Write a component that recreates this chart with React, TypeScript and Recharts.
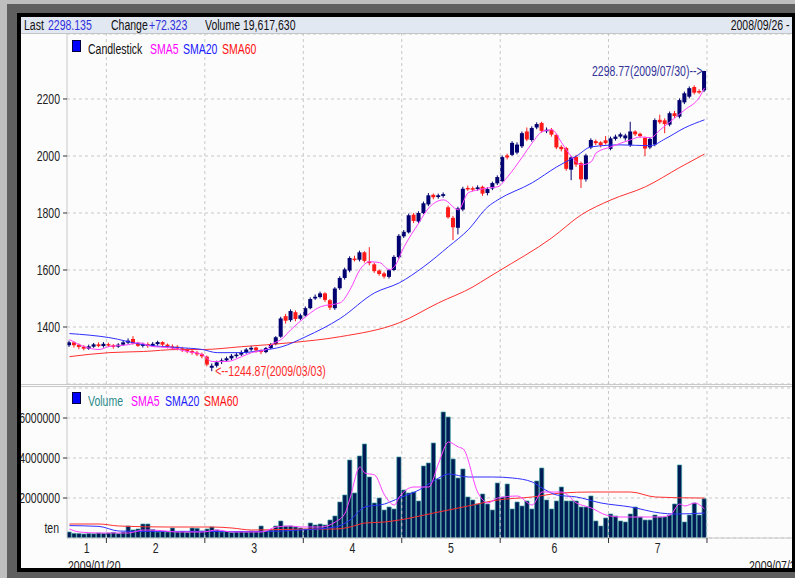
import React from "react";
import {
  ComposedChart,
  Bar,
  Line,
  XAxis,
  YAxis,
  CartesianGrid,
  ReferenceLine,
  ReferenceDot,
} from "recharts";

const FONT = "'Liberation Sans', Arial, sans-serif";
const FONT_SIZE = 14;
const SQUEEZE = 0.75; // the original uses a narrow face

// one entry per trading day, 2009/01/20 .. 2009/07/30
const opens = [
  1336, 1346, 1338, 1331, 1324, 1331, 1339, 1333,
  1340, 1336, 1331, 1338, 1345, 1358, 1342, 1334, 1340, 1333, 1340, 1347, 1338, 1332, 1331, 1325, 1320, 1316, 1310, 1305,
  1296, 1257, 1264, 1277, 1283, 1290, 1298, 1303, 1311, 1321, 1328, 1318, 1312, 1326, 1340, 1366, 1438, 1424, 1452, 1429,
  1440, 1466, 1500, 1505, 1518, 1494, 1466, 1536, 1572, 1598, 1640, 1636, 1662, 1630, 1620, 1598, 1588, 1576, 1600, 1645,
  1718, 1732, 1794, 1770, 1800, 1830, 1864, 1856, 1860, 1820, 1783, 1748, 1812, 1888, 1887, 1884, 1892, 1870, 1886, 1904,
  1912, 2002, 2004, 2012, 2034, 2086, 2056, 2100, 2116, 2088, 2092, 2074, 2032, 2028, 1952, 1997, 1975, 1918, 2030, 2052, 2048, 2055,
  2025, 2060, 2068, 2062, 2038, 2086, 2078, 2064, 2030, 2040, 2127, 2125, 2110, 2150, 2138, 2188, 2208, 2242, 2228, 2230,
];
const closes = [
  1346, 1336, 1330, 1324, 1332, 1339, 1333, 1341,
  1336, 1330, 1338, 1346, 1352, 1342, 1334, 1340, 1333, 1341, 1347, 1338, 1331, 1330, 1324, 1319, 1315, 1310, 1304, 1297,
  1268, 1264, 1276, 1283, 1290, 1299, 1303, 1311, 1321, 1327, 1318, 1312, 1326, 1339, 1364, 1430, 1422, 1456, 1428, 1441,
  1466, 1498, 1506, 1518, 1495, 1468, 1535, 1572, 1602, 1642, 1636, 1662, 1632, 1624, 1596, 1586, 1577, 1599, 1646, 1720,
  1734, 1792, 1772, 1800, 1834, 1862, 1855, 1862, 1866, 1785, 1750, 1816, 1885, 1886, 1883, 1890, 1868, 1884, 1905, 1926,
  1996, 1995, 2046, 2040, 2080, 2058, 2098, 2112, 2088, 2092, 2075, 2030, 2024, 1955, 1995, 1970, 1918, 2002, 2056, 2045, 2038, 2045,
  2062, 2068, 2076, 2072, 2086, 2076, 2070, 2026, 2060, 2126, 2118, 2112, 2150, 2140, 2196, 2220, 2238, 2222, 2225.81, 2298.135,
];
const highs = [
  1352, 1350, 1342, 1336, 1338, 1344, 1346, 1347,
  1345, 1340, 1343, 1352, 1360, 1368, 1348, 1345, 1346, 1347, 1352, 1350, 1342, 1339, 1336, 1330, 1326, 1320, 1316, 1310,
  1300, 1272, 1282, 1290, 1296, 1305, 1310, 1318, 1326, 1334, 1331, 1322, 1330, 1344, 1368, 1436, 1446, 1462, 1458, 1447,
  1472, 1504, 1514, 1524, 1522, 1498, 1540, 1578, 1608, 1648, 1650, 1668, 1666, 1680, 1626, 1602, 1594, 1604, 1652, 1726,
  1740, 1798, 1800, 1806, 1840, 1870, 1868, 1868, 1872, 1826, 1790, 1822, 1892, 1896, 1893, 1897, 1896, 1890, 1910, 1932,
  2002, 2008, 2052, 2048, 2086, 2100, 2104, 2118, 2120, 2100, 2098, 2078, 2038, 2032, 2000, 2004, 1980, 2008, 2062, 2058, 2052, 2070,
  2068, 2075, 2082, 2078, 2120, 2090, 2082, 2068, 2066, 2132, 2145, 2132, 2156, 2158, 2202, 2226, 2244, 2248, 2234, 2298.77,
];
const lows = [
  1330, 1328, 1322, 1318, 1320, 1327, 1329, 1328,
  1330, 1324, 1327, 1334, 1340, 1338, 1330, 1328, 1327, 1330, 1335, 1333, 1325, 1322, 1318, 1312, 1308, 1303, 1298, 1290,
  1262, 1244.87, 1258, 1270, 1278, 1284, 1292, 1298, 1306, 1314, 1310, 1305, 1308, 1322, 1336, 1362, 1412, 1418, 1420, 1424,
  1436, 1462, 1495, 1500, 1488, 1460, 1460, 1530, 1566, 1592, 1630, 1630, 1626, 1616, 1590, 1580, 1570, 1570, 1596, 1640,
  1712, 1728, 1765, 1764, 1796, 1824, 1848, 1850, 1854, 1780, 1705, 1725, 1806, 1878, 1876, 1878, 1860, 1862, 1880, 1898,
  1908, 1988, 2000, 2006, 2028, 2052, 2050, 2094, 2082, 2080, 2068, 2024, 2016, 1948, 1915, 1962, 1888, 1910, 2024, 2038, 2030, 2040,
  2020, 2054, 2062, 2054, 2032, 2070, 2064, 2000, 2024, 2034, 2112, 2080, 2104, 2134, 2132, 2182, 2202, 2216, 2218, 2224,
];
const volumes = [
  300000, 230000, 220000, 200000, 220000, 210000, 250000, 230000,
  250000, 280000, 220000, 300000, 600000, 400000, 450000, 700000, 700000, 420000, 300000, 330000, 300000, 500000, 300000, 330000, 280000, 500000, 480000, 350000,
  450000, 550000, 400000, 300000, 320000, 280000, 300000, 330000, 300000, 350000, 330000, 600000, 350000, 400000, 600000, 850000, 600000, 600000, 550000, 500000,
  450000, 750000, 650000, 700000, 650000, 900000, 1100000, 1800000, 2150000, 3900000, 2250000, 4100000, 4700000, 3050000, 1750000, 2000000, 1400000, 1550000, 1450000, 4050000,
  2400000, 2250000, 2300000, 1850000, 3600000, 3750000, 4750000, 2950000, 6300000, 6050000, 3950000, 3000000, 3450000, 2050000, 1900000, 1700000, 2200000, 1700000, 1400000, 2750000,
  2050000, 2700000, 1450000, 1800000, 1600000, 1850000, 1450000, 2850000, 3500000, 1900000, 1450000, 1850000, 2550000, 1850000, 1850000, 1850000, 1550000, 1550000, 2100000, 850000, 600000, 1000000,
  1200000, 1100000, 850000, 800000, 1200000, 1550000, 1050000, 900000, 900000, 1150000, 1050000, 1050000, 1150000, 1700000, 3650000, 800000, 1150000, 1750000, 1150000, 1961763,
];

// moving averages: [day index, value]
const sma5Price = [
  [0, 1356], [3, 1331], [6, 1321], [8, 1331], [12, 1338], [14, 1345], [17, 1331], [20, 1328], [24, 1314], [27, 1303],
  [29, 1279], [32, 1279], [35, 1296], [37, 1310], [40, 1321], [41, 1338], [43, 1356], [45, 1391], [48, 1436], [49, 1450],
  [51, 1471], [55, 1485], [57, 1531], [59, 1601], [61, 1629], [63, 1626], [65, 1601], [66, 1612], [68, 1682], [71, 1766],
  [73, 1818], [76, 1846], [79, 1811], [81, 1871], [83, 1881], [85, 1888], [87, 1892], [89, 1927], [92, 1997], [94, 2046],
  [96, 2085], [98, 2092], [100, 2046], [102, 1997], [104, 1969], [106, 1980], [107, 2011], [110, 2032], [114, 2057], [116, 2067],
  [118, 2064], [120, 2092], [122, 2120], [125, 2162], [128, 2207], [129, 2239],
];
const sma20Price = [
  [0, 1377], [8, 1363], [15, 1338], [22, 1328], [27, 1321], [30, 1310], [35, 1310], [39, 1318], [43, 1330], [48, 1366],
  [55, 1430], [62, 1520], [67, 1555], [72, 1612], [77, 1682], [81, 1741], [85, 1822], [87, 1846], [94, 1906], [99, 1962],
  [103, 2000], [106, 2032], [112, 2039], [118, 2036], [121, 2060], [125, 2099], [129, 2127],
];
const sma60Price = [
  [0, 1296], [8, 1310], [15, 1314], [22, 1321], [27, 1321], [35, 1331], [45, 1345], [55, 1366], [67, 1415], [75, 1485],
  [82, 1541], [85, 1573], [87, 1594], [98, 1713], [104, 1794], [110, 1846], [117, 1892], [124, 1960], [129, 2007],
];
const sma5Volume = [
  [0, 450000], [2, 300000], [6, 250000], [12, 250000], [15, 400000], [18, 380000], [22, 300000], [27, 300000], [30, 400000], [33, 300000],
  [39, 300000], [42, 550000], [45, 600000], [47, 550000], [51, 550000], [54, 800000], [56, 1250000], [57, 2000000], [59, 3550000], [60, 3250000],
  [62, 3150000], [64, 2150000], [66, 1650000], [67, 2050000], [70, 2550000], [73, 2550000], [75, 3750000], [77, 4800000], [79, 4550000], [80, 4450000],
  [83, 2250000], [85, 1750000], [87, 2000000], [91, 2100000], [94, 1650000], [96, 2300000], [100, 2300000], [103, 1750000], [106, 1500000], [109, 1150000],
  [112, 1050000], [116, 1050000], [120, 1050000], [122, 1150000], [124, 1700000], [125, 1600000], [127, 1750000], [129, 1450000],
];
const sma20Volume = [
  [0, 620000], [6, 580000], [10, 350000], [16, 330000], [27, 330000], [33, 320000], [40, 330000], [47, 400000], [54, 550000], [57, 900000],
  [60, 1550000], [64, 1700000], [67, 2000000], [71, 2400000], [75, 3000000], [77, 3200000], [81, 3050000], [86, 3050000], [90, 3000000], [94, 2800000],
  [96, 2500000], [99, 2150000], [103, 2050000], [108, 1750000], [114, 1550000], [120, 1250000], [123, 1200000], [129, 1250000],
];
const sma60Volume = [
  [0, 700000], [6, 700000], [10, 600000], [20, 550000], [29, 550000], [33, 500000], [37, 400000], [44, 430000], [50, 450000], [54, 450000],
  [57, 550000], [60, 750000], [64, 800000], [67, 900000], [74, 1250000], [81, 1600000], [87, 1900000], [94, 2050000], [100, 2250000], [106, 2300000],
  [114, 2300000], [119, 2050000], [128, 2000000], [129, 2000000],
];

const priceTicks = [1400, 1600, 1800, 2000, 2200];
const volumeTicks = [2000000, 4000000, 6000000];
const monthEdges = [7.5, 27.5, 47.5, 67.5, 87.5, 109.5, 129.5];
const monthMids = [3.5, 17.5, 37.5, 57.5, 77.5, 98.5, 119.5];
const monthLabels = ["1", "2", "3", "4", "5", "6", "7"];
const firstDate = "2009/01/20";
const lastDate = "2009/07/30";

const X_DOMAIN = [-0.5, 146.77];
const UP = "#000070";
const DOWN = "#ff1a1a";
const GRID = "#c8c8c8";

const priceRows = closes.map((c, i) => ({
  i,
  o: opens[i],
  h: highs[i],
  l: lows[i],
  c,
  range: [lows[i], highs[i]],
}));
const volumeRows = volumes.map((v, i) => ({ i, v }));
const pts = (list: number[][]) => list.map(([i, v]) => ({ i, v }));

// svg text squeezed horizontally around its anchor, vertically centred on y
const NText = ({ x, y, anchor = "start", fill = "#222", children }: any) => (
  <g transform={`translate(${x},${y}) scale(${SQUEEZE},1)`}>
    <text x={0} y={0} dy="0.36em" textAnchor={anchor} fontSize={FONT_SIZE} fill={fill}>
      {children}
    </text>
  </g>
);

// html text squeezed the same way
const NSpan = ({ left, right, top, color = "#111", children }: any) => (
  <div
    style={{
      position: "absolute",
      left,
      right,
      top,
      fontSize: FONT_SIZE,
      lineHeight: "16px",
      whiteSpace: "nowrap",
      color,
      transform: `scaleX(${SQUEEZE})`,
      transformOrigin: right !== undefined ? "right center" : "left center",
    }}
  >
    {children}
  </div>
);

const Candle = (props: any) => {
  const { x, y, width, height, payload } = props;
  const { o, c, h, l } = payload;
  const span = h - l || 1;
  const py = (v: number) => y + ((h - v) / span) * height;
  const color = c >= o ? UP : DOWN;
  const top = py(Math.max(o, c));
  const bottom = py(Math.min(o, c));
  const cx = x + width / 2;
  return (
    <g>
      <line x1={cx} x2={cx} y1={y} y2={y + height} stroke={color} strokeWidth={1} />
      <rect x={x} y={top} width={width} height={Math.max(1.5, bottom - top)} fill={color} />
    </g>
  );
};

const ValueTick = (props: any) => (
  <NText x={props.x} y={props.y} anchor="end">
    {props.payload.value}
  </NText>
);

const MonthTick = (props: any) => {
  const { x, y, payload } = props;
  const v = payload.value;
  const k = monthMids.indexOf(v);
  if (k >= 0) {
    return (
      <NText x={x} y={y + 10} anchor="middle">
        {monthLabels[k]}
      </NText>
    );
  }
  if (v === X_DOMAIN[0]) {
    return (
      <NText x={x + 1} y={y + 28}>
        {firstDate}
      </NText>
    );
  }
  return (
    <g>
      <line x1={x} x2={x} y1={y} y2={y + 5} stroke="#333" />
      {v === monthEdges[monthEdges.length - 1] && (
        <NText x={x + 42} y={y + 28}>
          {lastDate}
        </NText>
      )}
    </g>
  );
};

const LegendRow = ({ items, top }: { items: { label: string; color: string; left: number }[]; top: number }) => (
  <>
    <div
      style={{
        position: "absolute",
        left: 51,
        top,
        width: 7,
        height: 10,
        background: "#0000ff",
        border: "1px solid #000040",
      }}
    />
    {items.map((it) => (
      <NSpan key={it.label} left={it.left - 21} top={top + 1} color={it.color}>
        {it.label}
      </NSpan>
    ))}
  </>
);

const edgeLines = monthEdges.map((e) => (
  <ReferenceLine key={e} x={e} stroke={GRID} strokeDasharray="3 3" />
));

export default function App() {
  return (
    <div
      style={{
        position: "absolute",
        left: 0,
        top: 0,
        width: 795,
        height: 578,
        background: "#bebebe",
        fontFamily: FONT,
        overflow: "hidden",
      }}
    >
      <div style={{ position: "absolute", left: 7, top: 4, right: 0, bottom: 0, background: "#5f5f5f" }} />
      <div style={{ position: "absolute", left: 17, top: 13, right: 0, bottom: 6, background: "#000" }} />
      <div
        style={{
          position: "absolute",
          left: 21,
          top: 17,
          width: 771,
          height: 551,
          background: "#fcfcfc",
          overflow: "hidden",
        }}
      >
        {/* info bar */}
        <div
          style={{
            position: "absolute",
            left: 0,
            top: 0,
            width: 771,
            height: 16,
            background: "#e2e8f1",
            borderBottom: "1px solid #c4c4c4",
          }}
        >
          <NSpan left={3} top={0}>Last</NSpan>
          <NSpan left={27} top={0} color="#3030e0">2298.135</NSpan>
          <NSpan left={90} top={0}>Change</NSpan>
          <NSpan left={128} top={0} color="#3030e0">+72.323</NSpan>
          <NSpan left={184} top={0}>Volume 19,617,630</NSpan>
          <NSpan right={2} top={0}>2008/09/26 -</NSpan>
        </div>

        {/* price pane */}
        <div style={{ position: "absolute", left: 0, top: 17 }}>
          <ComposedChart width={771} height={350} data={priceRows} margin={{ top: 0, right: 0, bottom: 0, left: 0 }}>
            <CartesianGrid vertical={false} stroke={GRID} strokeDasharray="3 3" />
            <XAxis dataKey="i" type="number" domain={X_DOMAIN} allowDataOverflow hide />
            <YAxis
              domain={[1200, 2428]}
              allowDataOverflow
              ticks={priceTicks}
              width={46}
              tickSize={4}
              tickMargin={3}
              tick={<ValueTick />}
              tickLine={{ stroke: "#333" }}
              axisLine={{ stroke: GRID }}
            />
            {edgeLines}
            <Bar dataKey="range" barSize={4} shape={<Candle />} isAnimationActive={false} />
            <Line data={pts(sma60Price)} dataKey="v" type="monotone" stroke="#ff3030" strokeWidth={1} dot={false} isAnimationActive={false} />
            <Line data={pts(sma20Price)} dataKey="v" type="monotone" stroke="#3030ff" strokeWidth={1} dot={false} isAnimationActive={false} />
            <Line data={pts(sma5Price)} dataKey="v" type="monotone" stroke="#ff40ff" strokeWidth={1} dot={false} isAnimationActive={false} />
            <ReferenceDot
              x={129}
              y={2298.77}
              r={1}
              fill="none"
              stroke="none"
              label={(p: any) => (
                <NText x={p.viewBox.x - 1} y={p.viewBox.y + p.viewBox.height / 2} anchor="end" fill="#333399">
                  2298.77(2009/07/30)--&gt;
                </NText>
              )}
            />
            <ReferenceDot
              x={29}
              y={1244.87}
              r={1}
              fill="none"
              stroke="none"
              label={(p: any) => (
                <NText x={p.viewBox.x + p.viewBox.width + 2} y={p.viewBox.y + p.viewBox.height / 2} fill="#ff2a2a">
                  &lt;--1244.87(2009/03/03)
                </NText>
              )}
            />
          </ComposedChart>
        </div>
        <LegendRow
          top={23}
          items={[
            { label: "Candlestick", color: "#111", left: 88 },
            { label: "SMA5", color: "#ff00ff", left: 150 },
            { label: "SMA20", color: "#2020ff", left: 183 },
            { label: "SMA60", color: "#ff1010", left: 222 },
          ]}
        />

        {/* pane separator */}
        <div style={{ position: "absolute", left: 0, top: 367, width: 771, height: 1, background: GRID }} />
        <div style={{ position: "absolute", left: 0, top: 369, width: 771, height: 1, background: GRID }} />

        {/* volume pane */}
        <div style={{ position: "absolute", left: 0, top: 370 }}>
          <ComposedChart width={771} height={181} data={volumeRows} margin={{ top: 1, right: 0, bottom: 0, left: 0 }}>
            <CartesianGrid vertical={false} stroke={GRID} strokeDasharray="3 3" />
            <XAxis
              dataKey="i"
              type="number"
              domain={X_DOMAIN}
              allowDataOverflow
              height={30}
              ticks={[X_DOMAIN[0], ...monthEdges, ...monthMids]}
              interval={0}
              tickSize={0}
              tickMargin={0}
              tickLine={false}
              tick={<MonthTick />}
              axisLine={{ stroke: GRID }}
            />
            <YAxis
              domain={[0, 7500000]}
              allowDataOverflow
              ticks={volumeTicks}
              width={46}
              tickSize={4}
              tickMargin={3}
              tick={<ValueTick />}
              tickLine={{ stroke: "#333" }}
              axisLine={{ stroke: GRID }}
              label={(p: any) => (
                <NText x={p.viewBox.x + p.viewBox.width - 8} y={p.viewBox.y + p.viewBox.height - 10} anchor="end">
                  ten
                </NText>
              )}
            />
            {edgeLines}
            <Bar dataKey="v" barSize={4.2} fill="#001a55" stroke="#3a9c9c" strokeWidth={0.7} isAnimationActive={false} />
            <Line data={pts(sma60Volume)} dataKey="v" type="monotone" stroke="#ff3030" strokeWidth={1} dot={false} isAnimationActive={false} />
            <Line data={pts(sma20Volume)} dataKey="v" type="monotone" stroke="#3030ff" strokeWidth={1} dot={false} isAnimationActive={false} />
            <Line data={pts(sma5Volume)} dataKey="v" type="monotone" stroke="#ff40ff" strokeWidth={1} dot={false} isAnimationActive={false} />
          </ComposedChart>
        </div>
        <LegendRow
          top={375}
          items={[
            { label: "Volume", color: "#2a8a8a", left: 88 },
            { label: "SMA5", color: "#ff00ff", left: 131 },
            { label: "SMA20", color: "#2020ff", left: 165 },
            { label: "SMA60", color: "#ff1010", left: 204 },
          ]}
        />
      </div>
    </div>
  );
}
